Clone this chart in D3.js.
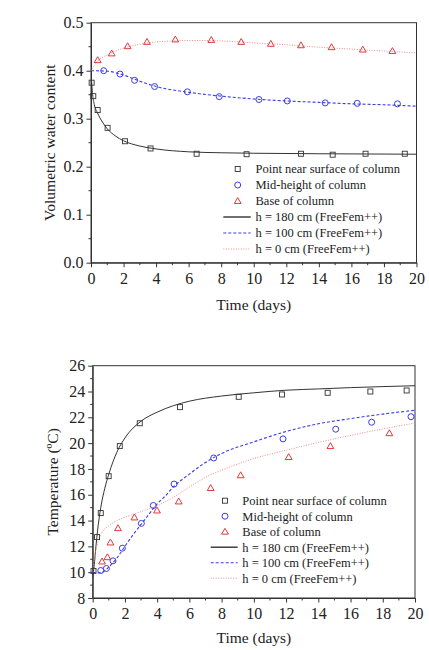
<!DOCTYPE html>
<html lang="en">
<head>
<meta charset="UTF-8">
<script src="https://d3js.org/d3.v7.min.js"></script>
<style>
  body { margin: 0; background: #fff; }
  svg { display: block; font-family: "Liberation Serif", "Times New Roman", serif; }
</style>
</head>
<body>
<div id="chart"></div>
<script>
// ---- water content (top panel) ----
const wcSurfT = [0.04, 0.14, 0.41, 1.02, 2.09, 3.66, 6.49, 9.56, 12.9, 14.85, 16.87, 19.28];
const wcSurfV = [0.375, 0.347, 0.318, 0.281, 0.253, 0.238, 0.227, 0.226, 0.227, 0.225, 0.227, 0.227];
const wcMidT = [0.78, 1.78, 2.68, 3.91, 5.92, 7.88, 10.32, 12.06, 14.39, 16.36, 18.83];
const wcMidV = [0.400, 0.393, 0.380, 0.367, 0.356, 0.346, 0.340, 0.337, 0.333, 0.332, 0.331];
const wcBaseT = [0.41, 1.27, 2.25, 3.44, 5.18, 7.39, 9.23, 11.05, 12.9, 14.78, 16.7, 18.52];
const wcBaseV = [0.422, 0.436, 0.451, 0.460, 0.465, 0.464, 0.460, 0.456, 0.453, 0.449, 0.444, 0.441];

const wcLine180T = [0, 0.05, 0.1, 0.2, 0.4, 0.7, 1, 1.5, 2, 3, 4, 6, 8, 10, 14, 20];
const wcLine180V = [0.400, 0.370, 0.350, 0.330, 0.312, 0.293, 0.279, 0.264, 0.254, 0.243, 0.237, 0.231, 0.229, 0.228, 0.227, 0.226];
const wcLine100T = [0, 1, 2, 3, 4, 6, 8, 10, 12, 14, 16, 18, 20];
const wcLine100V = [0.400, 0.399, 0.391, 0.378, 0.367, 0.355, 0.347, 0.341, 0.337, 0.334, 0.331, 0.329, 0.326];
const wcLine0T = [0, 0.4, 1, 2, 3, 4, 5, 6, 7, 8, 10, 12, 14, 16, 18, 20];
const wcLine0V = [0.400, 0.420, 0.433, 0.447, 0.455, 0.460, 0.462, 0.463, 0.463, 0.462, 0.458, 0.454, 0.449, 0.445, 0.441, 0.437];

// ---- temperature (bottom panel) ----
const tpSurfT = [0.05, 0.27, 0.5, 0.99, 1.68, 2.92, 5.42, 9.06, 11.75, 14.58, 17.23, 19.48];
const tpSurfV = [10.1, 12.72, 14.58, 17.44, 19.77, 21.54, 22.79, 23.59, 23.77, 23.9, 24.0, 24.08];
const tpMidT = [0.5, 0.85, 1.26, 1.84, 3.02, 3.76, 5.05, 7.51, 11.81, 15.08, 17.31, 19.75];
const tpMidV = [10.13, 10.29, 10.88, 11.86, 13.78, 15.17, 16.83, 18.85, 20.33, 21.08, 21.62, 22.05];
const tpBaseT = [0.58, 0.91, 1.10, 1.57, 2.59, 3.99, 5.34, 7.32, 9.18, 12.16, 14.75, 18.41];
const tpBaseV = [10.83, 11.16, 12.30, 13.41, 14.24, 14.78, 15.48, 16.52, 17.51, 18.92, 19.77, 20.77];

const tpLine180T = [0, 0.1, 0.2, 0.3, 0.5, 0.75, 1, 1.5, 2, 3, 4, 5, 6, 8, 10, 12, 14, 16, 18, 20];
const tpLine180V = [9.6, 10.6, 12.0, 13.2, 15.0, 16.5, 17.6, 19.3, 20.4, 21.7, 22.4, 22.9, 23.25, 23.65, 23.9, 24.1, 24.2, 24.3, 24.38, 24.45];
const tpLine100T = [0, 0.3, 0.6, 1, 1.5, 2, 2.5, 3, 3.5, 4, 4.5, 5, 6, 7, 8, 10, 12, 14, 16, 18, 20];
const tpLine100V = [10.0, 9.95, 10.0, 10.4, 11.1, 12.0, 12.9, 13.7, 14.5, 15.3, 15.9, 16.6, 17.6, 18.5, 19.2, 20.1, 20.9, 21.5, 21.9, 22.25, 22.55];
const tpLine0T = [0, 0.1, 0.25, 0.5, 1, 1.5, 2, 3, 4, 5, 6, 7, 8, 10, 12, 14, 16, 18, 20];
const tpLine0V = [10.0, 11.0, 12.0, 12.9, 13.6, 14.0, 14.25, 14.7, 15.15, 15.8, 16.6, 17.35, 17.9, 18.8, 19.45, 20.05, 20.6, 21.1, 21.55];

const xTicks = [0, 2, 4, 6, 8, 10, 12, 14, 16, 18, 20];
const wcTicks = [0.0, 0.1, 0.2, 0.3, 0.4, 0.5];
const tpTicks = [8, 10, 12, 14, 16, 18, 20, 22, 24, 26];
const legendLabels = ["Point near surface of column", "Mid-height of column", "Base of column",
  "h = 180 cm (FreeFem++)", "h = 100 cm (FreeFem++)", "h = 0 cm (FreeFem++)"];

const W = 429, H = 650;
const svg = d3.select("#chart").append("svg").attr("width", W).attr("height", H);

const black = "#333333", blue = "#3c3ce6", red = "#e03a3a", pink = "#f08a8a";
const serif = "Liberation Serif";

function pairs(t, v) { return t.map((d, i) => [d, v[i]]); }

function drawPanel(p) {
  const x = d3.scaleLinear().domain([0, 20]).range([p.left, p.right]);
  const y = d3.scaleLinear().domain(p.yDomain).range([p.bottom, p.top]);
  const g = svg.append("g");

  // minor ticks
  const xMinor = d3.range(1, 20, 2);
  g.selectAll(".xm").data(xMinor).enter().append("line")
    .attr("x1", d => x(d)).attr("x2", d => x(d))
    .attr("y1", p.bottom).attr("y2", p.bottom + 2.5)
    .attr("stroke", black);
  g.selectAll(".ym").data(p.yMinor).enter().append("line")
    .attr("x1", p.left - 2.5).attr("x2", p.left)
    .attr("y1", d => y(d)).attr("y2", d => y(d))
    .attr("stroke", black);

  const xAxis = d3.axisBottom(x).tickValues(xTicks).tickFormat(d3.format("d"))
    .tickSize(4.5).tickSizeOuter(0).tickPadding(5);
  const gx = g.append("g").attr("transform", `translate(0,${p.bottom})`).call(xAxis);
  const yAxis = d3.axisLeft(y).tickValues(p.yTicks).tickFormat(p.yFormat)
    .tickSize(4.5).tickSizeOuter(0).tickPadding(3);
  const gy = g.append("g").attr("transform", `translate(${p.left},0)`).call(yAxis);
  [gx, gy].forEach(a => {
    a.attr("font-family", serif);
    a.selectAll("path,line").attr("stroke", black);
    a.selectAll("text").attr("font-family", serif).attr("font-size", "16px").attr("fill", "#222");
  });

  // frame
  g.append("rect").attr("x", p.left).attr("y", p.top)
    .attr("width", p.right - p.left).attr("height", p.bottom - p.top)
    .attr("fill", "none").attr("stroke", black).attr("stroke-width", 1);

  const line = d3.line().x(d => x(d[0])).y(d => y(d[1])).curve(d3.curveMonotoneX);
  const clipId = "clip" + p.id;
  svg.append("clipPath").attr("id", clipId).append("rect")
    .attr("x", p.left).attr("y", p.top).attr("width", p.right - p.left).attr("height", p.bottom - p.top);

  const lines = [
    { d: pairs(p.l180[0], p.l180[1]), c: black, dash: null, w: 1 },
    { d: pairs(p.l100[0], p.l100[1]), c: blue, dash: "3,2", w: 1.1 },
    { d: pairs(p.l0[0], p.l0[1]), c: pink, dash: "1,1.5", w: 1 }
  ];
  lines.forEach(l => {
    g.append("path").datum(l.d).attr("d", line).attr("fill", "none")
      .attr("clip-path", `url(#${clipId})`)
      .attr("stroke", l.c).attr("stroke-width", l.w).attr("stroke-dasharray", l.dash);
  });

  // markers
  g.selectAll(".sq").data(pairs(p.surf[0], p.surf[1])).enter().append("rect")
    .attr("x", d => x(d[0]) - 2.5).attr("y", d => y(d[1]) - 2.5)
    .attr("width", 5).attr("height", 5)
    .attr("fill", "none").attr("stroke", black).attr("stroke-width", 0.9);
  g.selectAll(".ci").data(pairs(p.mid[0], p.mid[1])).enter().append("circle")
    .attr("cx", d => x(d[0])).attr("cy", d => y(d[1])).attr("r", 3)
    .attr("fill", "none").attr("stroke", blue).attr("stroke-width", 1);
  const tri = d3.symbol().type(d3.symbolTriangle).size(20);
  g.selectAll(".tr").data(pairs(p.base[0], p.base[1])).enter().append("path")
    .attr("d", tri).attr("transform", d => `translate(${x(d[0])},${y(d[1]) + 0.5})`)
    .attr("fill", "none").attr("stroke", red).attr("stroke-width", 1);

  // legend
  const lg = g.append("g");
  legendLabels.forEach((lab, i) => {
    const ly = p.legY + i * p.legStep;
    if (i === 0) lg.append("rect").attr("x", p.legMark - 2.5).attr("y", ly - 2.5).attr("width", 5).attr("height", 5)
      .attr("fill", "none").attr("stroke", black).attr("stroke-width", 0.9);
    if (i === 1) lg.append("circle").attr("cx", p.legMark).attr("cy", ly).attr("r", 3)
      .attr("fill", "none").attr("stroke", blue);
    if (i === 2) lg.append("path").attr("d", tri).attr("transform", `translate(${p.legMark},${ly + 0.5})`)
      .attr("fill", "none").attr("stroke", red);
    if (i >= 3) {
      const l = lines[i - 3];
      lg.append("line").attr("x1", p.legL1).attr("x2", p.legL2).attr("y1", ly).attr("y2", ly)
        .attr("stroke", l.c).attr("stroke-width", i === 3 ? 1.4 : l.w).attr("stroke-dasharray", l.dash);
    }
    lg.append("text").attr("x", p.legText).attr("y", ly + 4.3).attr("font-family", serif)
      .attr("font-size", "12.5px").attr("fill", "#222").text(lab);
  });

  // axis titles
  g.append("text").attr("x", (p.left + p.right) / 2).attr("y", p.xTitleY).attr("font-family", serif)
    .attr("text-anchor", "middle").attr("font-size", "15.5px").attr("fill", "#222").text("Time (days)");
  g.append("text").attr("transform", `translate(${p.yTitleX},${(p.top + p.bottom) / 2}) rotate(-90)`)
    .attr("font-family", serif)
    .attr("text-anchor", "middle").attr("font-size", "15.5px").attr("fill", "#222").text(p.yTitle);
}

drawPanel({
  id: 1, left: 91, right: 416.5, top: 22.7, bottom: 262.7,
  yDomain: [0, 0.5], yTicks: wcTicks, yFormat: d3.format(".1f"),
  yMinor: [0.05, 0.15, 0.25, 0.35, 0.45],
  surf: [wcSurfT, wcSurfV], mid: [wcMidT, wcMidV], base: [wcBaseT, wcBaseV],
  l180: [wcLine180T, wcLine180V], l100: [wcLine100T, wcLine100V], l0: [wcLine0T, wcLine0V],
  legY: 169, legStep: 16, legMark: 237.7, legText: 255.5, legL1: 223.3, legL2: 250.7,
  xTitleY: 310, yTitleX: 55, yTitle: "Volumetric water content"
});

drawPanel({
  id: 2, left: 92.7, right: 415, top: 365.7, bottom: 598,
  yDomain: [8, 26], yTicks: tpTicks, yFormat: d3.format("d"),
  yMinor: [9, 11, 13, 15, 17, 19, 21, 23, 25],
  surf: [tpSurfT, tpSurfV], mid: [tpMidT, tpMidV], base: [tpBaseT, tpBaseV],
  l180: [tpLine180T, tpLine180V], l100: [tpLine100T, tpLine100V], l0: [tpLine0T, tpLine0V],
  legY: 500.7, legStep: 15.5, legMark: 225, legText: 242.3, legL1: 210.7, legL2: 237.7,
  xTitleY: 643, yTitleX: 58, yTitle: "Temperature (ºC)"
});
</script>
</body>
</html>
